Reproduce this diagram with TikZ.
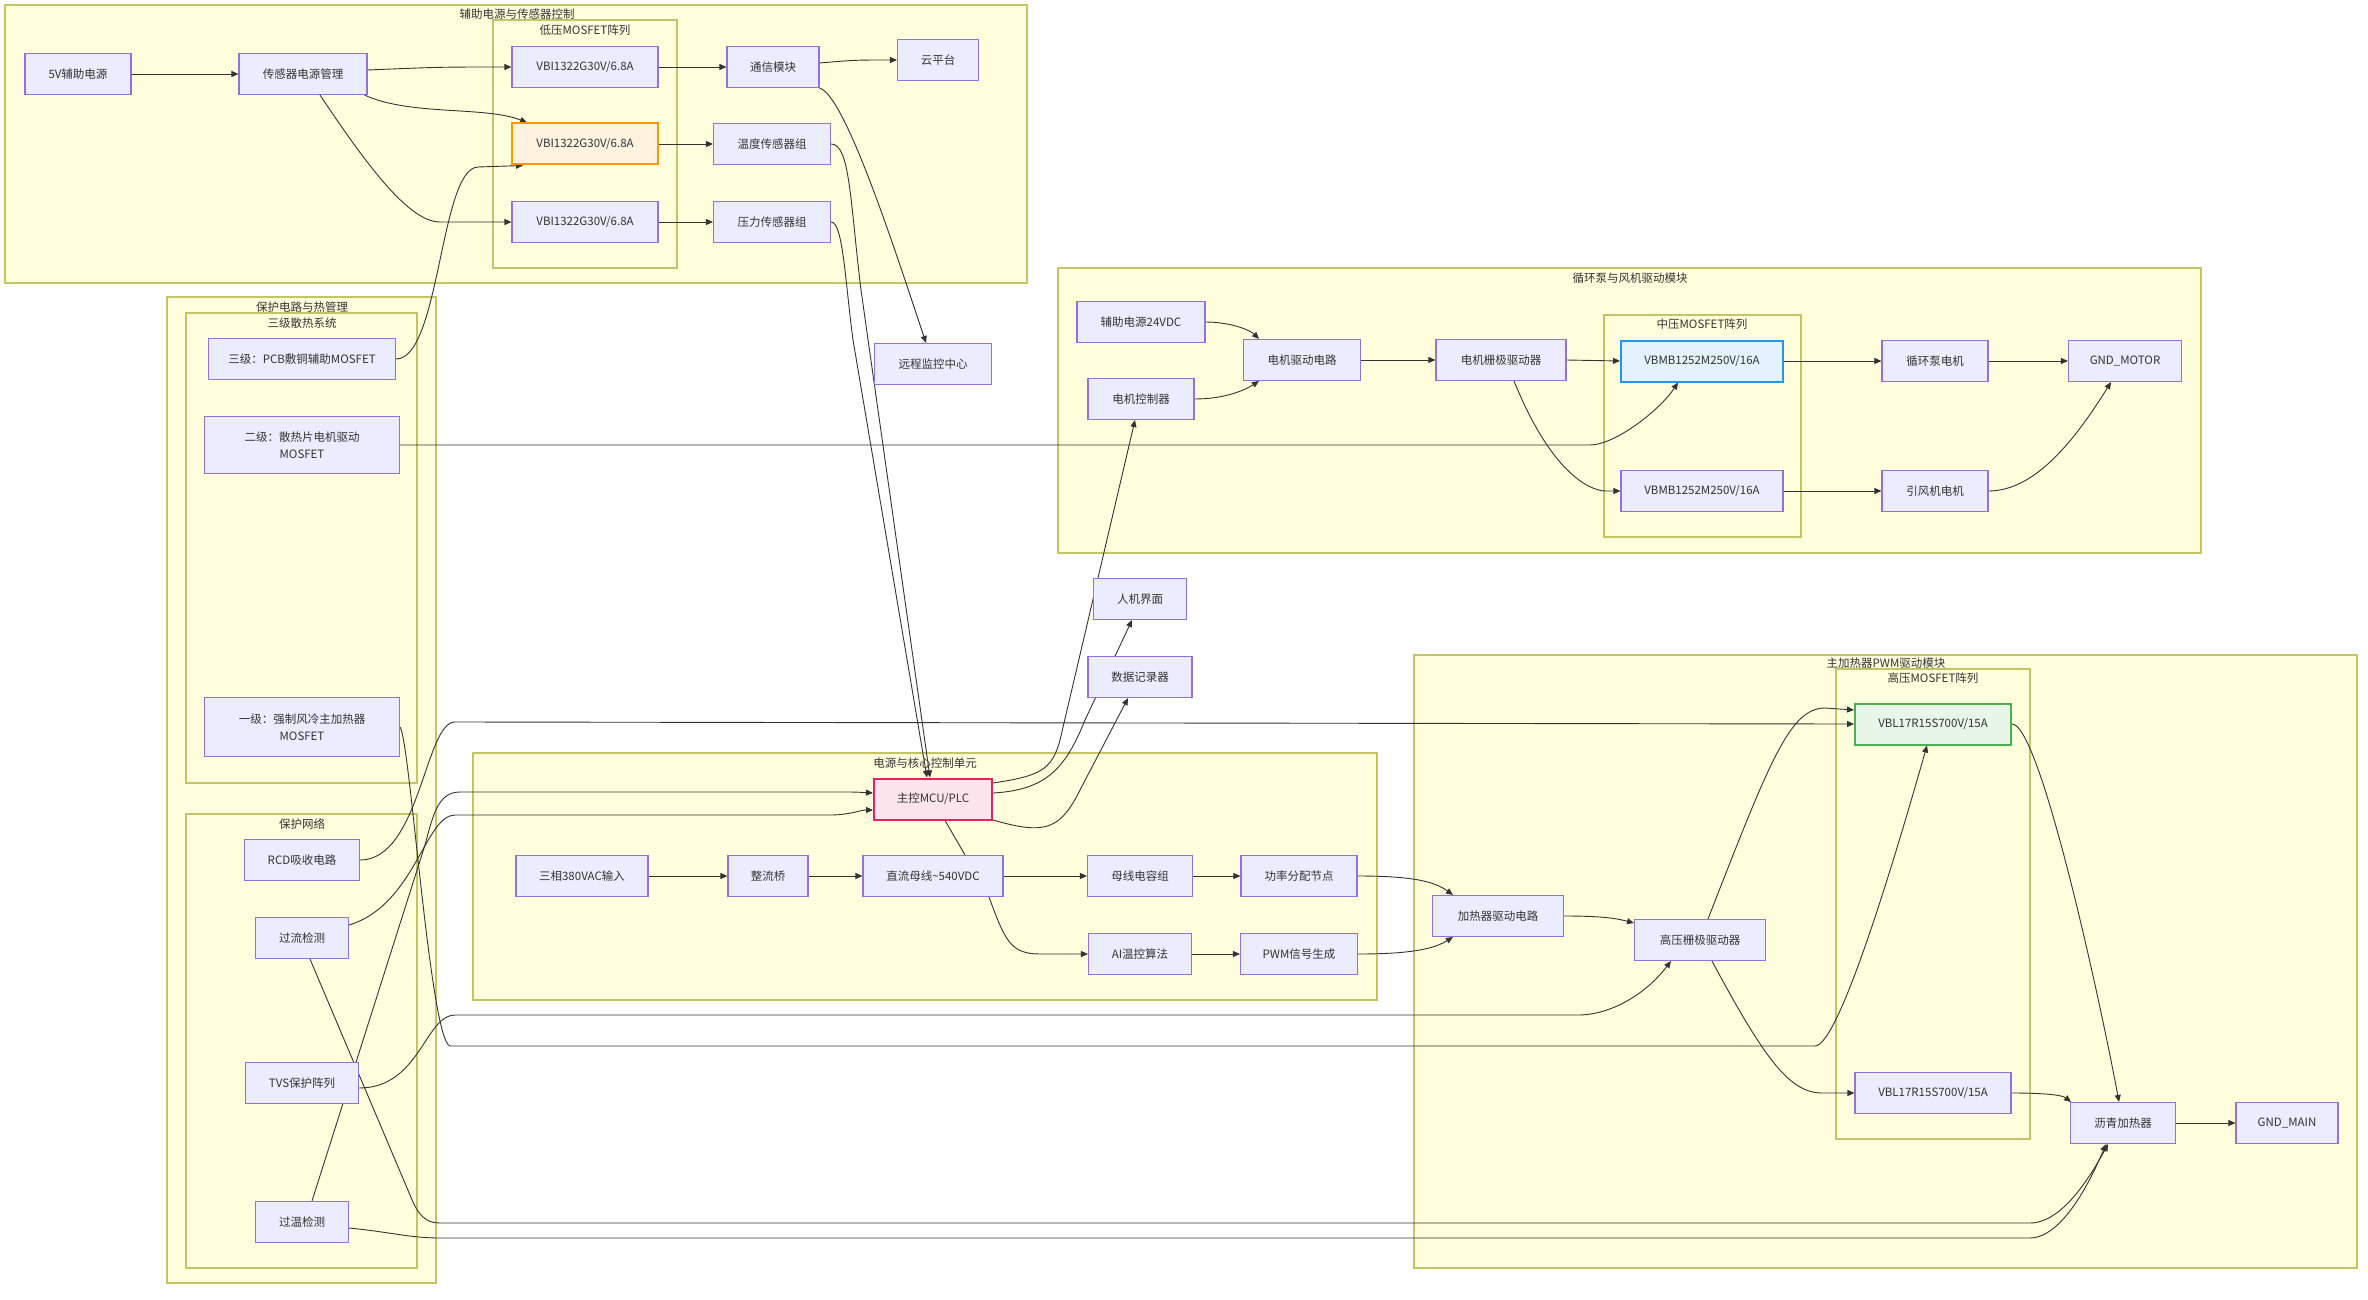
\documentclass[tikz,border=0pt]{standalone}
\usepackage{fontspec}
\setmainfont{Noto Sans CJK SC}
\usetikzlibrary{arrows.meta,calc}
\definecolor{sgfill}{HTML}{FFFFDE}
\definecolor{sgdraw}{HTML}{C4C466}
\definecolor{ndfill}{HTML}{ECECFF}
\definecolor{nddraw}{HTML}{9370DB}
\definecolor{edgec}{HTML}{333333}
\definecolor{txt}{HTML}{333333}
\definecolor{orgfill}{HTML}{FFF3E0}
\definecolor{orgdraw}{HTML}{FF9800}
\definecolor{bluefill}{HTML}{E3F2FD}
\definecolor{bluedraw}{HTML}{2196F3}
\definecolor{grnfill}{HTML}{E8F5E9}
\definecolor{grndraw}{HTML}{4CAF50}
\definecolor{pinkfill}{HTML}{FCE4EC}
\definecolor{pinkdraw}{HTML}{E91E63}
\newcommand{\mynodefont}{\fontsize{11.5}{17.5}\selectfont}
\pgfdeclarelayer{bg}
\pgfdeclarelayer{edgelayer}
\pgfsetlayers{bg,edgelayer,main}
\begin{document}
\begin{tikzpicture}[x=1pt,y=-1pt,
  box/.style={draw=nddraw, fill=ndfill, line width=1.1pt, text=txt, font=\mynodefont, align=center, inner sep=2pt, minimum height=41pt},
  hlorange/.style={box, draw=orgdraw, fill=orgfill, line width=2pt},
  hlblue/.style={box, draw=bluedraw, fill=bluefill, line width=2pt},
  hlgreen/.style={box, draw=grndraw, fill=grnfill, line width=2pt},
  hlpink/.style={box, draw=pinkdraw, fill=pinkfill, line width=2pt},
  sg/.style={draw=sgdraw, fill=sgfill, line width=1.3pt},
  sgtitle/.style={text=txt, font=\mynodefont, inner sep=0pt},
  edge/.style={draw=edgec, line width=0.9pt, -{Triangle[length=7pt,width=6pt]}},
  plainedge/.style={draw=edgec, line width=0.9pt}
]
\useasboundingbox (0,0) rectangle (2368,1300);
\begin{pgfonlayer}{bg}
\fill[white] (0,0) rectangle (2368,1300);
% subgraph boxes
\draw[sg] (5,5) rectangle (1027,283);
\draw[sg] (493,20) rectangle (677,268);
\draw[sg] (167,297) rectangle (436,1283);
\draw[sg] (186,313) rectangle (417,783);
\draw[sg] (186,814) rectangle (417,1268);
\draw[sg] (1058,268) rectangle (2201,553);
\draw[sg] (1604,315) rectangle (1801,537);
\draw[sg] (473,753) rectangle (1377,1000);
\draw[sg] (1414,655) rectangle (2357,1268);
\draw[sg] (1836,669) rectangle (2030,1139);
\node[sgtitle] (tB1) at (517,14) {辅助电源与传感器控制};
\node[sgtitle] (tB1a) at (585,30) {低压MOSFET阵列};
\node[sgtitle] (tB2) at (302,307) {保护电路与热管理};
\node[sgtitle] (tB2a) at (302,323) {三级散热系统};
\node[sgtitle] (tB2b) at (302,824) {保护网络};
\node[sgtitle] (tB3) at (1630,278) {循环泵与风机驱动模块};
\node[sgtitle] (tB3a) at (1702,324) {中压MOSFET阵列};
\node[sgtitle] (tB4) at (925,763) {电源与核心控制单元};
\node[sgtitle] (tB5) at (1886,663) {主加热器PWM驱动模块};
\node[sgtitle] (tB5a) at (1933,678) {高压MOSFET阵列};
\end{pgfonlayer}

% nodes: auxiliary power & sensors
\node[box, minimum width=106pt] (n5v) at (78,74) {5V辅助电源};
\node[box, minimum width=128pt] (sensPM) at (303,74) {传感器电源管理};
\node[box, minimum width=146pt] (vbi1) at (585,67) {VBI1322G30V/6.8A};
\node[hlorange, minimum width=146pt] (vbi2) at (585,144) {VBI1322G30V/6.8A};
\node[box, minimum width=146pt] (vbi3) at (585,222) {VBI1322G30V/6.8A};
\node[box, minimum width=92pt] (comm) at (773,67) {通信模块};
\node[box, minimum width=117pt] (temp) at (772,144) {温度传感器组};
\node[box, minimum width=117pt] (press) at (772,222) {压力传感器组};
\node[box, minimum width=81pt] (cloud) at (938,60) {云平台};
% protection & thermal
\node[box, minimum width=187pt] (h3) at (302,359) {三级：PCB敷铜辅助MOSFET};
\node[box, minimum width=195pt, minimum height=57pt] (h2) at (302,445) {二级：散热片电机驱动\\MOSFET};
\node[box, minimum width=195pt, minimum height=59pt] (h1) at (302,727) {一级：强制风冷主加热器\\MOSFET};
\node[box, minimum width=115pt] (rcd) at (302,860) {RCD吸收电路};
\node[box, minimum width=93pt] (oc) at (302,938) {过流检测};
\node[box, minimum width=113pt] (tvs) at (302,1083) {TVS保护阵列};
\node[box, minimum width=93pt] (ot) at (302,1222) {过温检测};
% free nodes
\node[box, minimum width=117pt] (remote) at (933,364) {远程监控中心};
\node[box, minimum width=93pt] (hmi) at (1140,599) {人机界面};
\node[box, minimum width=104pt] (logger) at (1140,677) {数据记录器};
% pump & fan
\node[box, minimum width=128pt] (aux24) at (1141,322) {辅助电源24VDC};
\node[box, minimum width=106pt] (mctrl) at (1141,399) {电机控制器};
\node[box, minimum width=117pt] (mdrv) at (1302,360) {电机驱动电路};
\node[box, minimum width=130pt] (mgate) at (1501,360) {电机栅极驱动器};
\node[hlblue, minimum width=162pt] (vbmb1) at (1702,361) {VBMB1252M250V/16A};
\node[box, minimum width=162pt] (vbmb2) at (1702,491) {VBMB1252M250V/16A};
\node[box, minimum width=106pt] (pump) at (1935,361) {循环泵电机};
\node[box, minimum width=106pt] (fan) at (1935,491) {引风机电机};
\node[box, minimum width=113pt] (gndm) at (2125,361) {GND\_MOTOR};
% core
\node[hlpink, minimum width=118pt] (mcu) at (933,799) {主控MCU/PLC};
\node[box, minimum width=132pt] (ac) at (582,876) {三相380VAC输入};
\node[box, minimum width=80pt] (rect) at (768,876) {整流桥};
\node[box, minimum width=140pt] (dc) at (933,876) {直流母线\textasciitilde 540VDC};
\node[box, minimum width=105pt] (cap) at (1140,876) {母线电容组};
\node[box, minimum width=116pt] (pdn) at (1299,876) {功率分配节点};
\node[box, minimum width=103pt] (ai) at (1140,954) {AI温控算法};
\node[box, minimum width=117pt] (pwm) at (1299,954) {PWM信号生成};
% heater
\node[box, minimum width=131pt] (hdrv) at (1498,916) {加热器驱动电路};
\node[box, minimum width=131pt] (hgate) at (1700,940) {高压栅极驱动器};
\node[hlgreen, minimum width=156pt] (vbl1) at (1933,724) {VBL17R15S700V/15A};
\node[box, minimum width=156pt] (vbl2) at (1933,1093) {VBL17R15S700V/15A};
\node[box, minimum width=105pt] (asph) at (2123,1123) {沥青加热器};
\node[box, minimum width=102pt] (gndmain) at (2287,1123) {GND\_MAIN};

\begin{pgfonlayer}{edgelayer}
% auxiliary power & sensors
\draw[edge] (n5v.east) -- (sensPM.west);
\draw[edge] ([yshift=4pt]sensPM.east) .. controls (440,67) .. (vbi1.west);
\draw[edge] ([xshift=-3pt]sensPM.south east) .. controls (410,116) and (485,106) .. ([xshift=-58pt]vbi2.north);
\draw[edge] ([xshift=17pt]sensPM.south) .. controls (370,170) and (410,222) .. (440,222) -- (vbi3.west);
\draw[edge] (vbi1.east) -- (comm.west);
\draw[edge] (vbi2.east) -- (temp.west);
\draw[edge] (vbi3.east) -- (press.west);
\draw[edge] ([yshift=4pt]comm.east) .. controls (855,60) .. (cloud.west);
\draw[edge] (comm.south east) .. controls (845,95) and (895,250) .. ([xshift=-7pt]remote.north);
\draw[edge] (temp.east) .. controls (850,144) and (850,200) .. (861,290) -- ([xshift=-3pt]mcu.north);
\draw[edge] (press.east) .. controls (843,222) and (845,280) .. (853,340) -- ([xshift=-6pt]mcu.north);
% thermal tiers
\draw[edge] (h3.east) .. controls (440,359) and (440,168) .. (478,167) -- ([xshift=-62pt]vbi2.south);
\draw[edge] (h2.east) -- (1590,445) .. controls (1615,445) and (1660,410) .. ([xshift=-24pt]vbmb1.south);
\draw[edge] (h1.east) .. controls (410,740) and (430,1040) .. (450,1046) -- (1815,1046) .. controls (1840,1046) and (1900,840) .. ([xshift=-6pt]vbl1.south);
% protection network
\draw[edge] (rcd.east) .. controls (420,860) and (425,722) .. (455,722) -- (vbl1.west);
\draw[edge] ([yshift=-5pt]tvs.east) .. controls (420,1088) and (425,1015) .. (455,1015) -- (1578,1015) .. controls (1610,1015) and (1645,995) .. ([xshift=-29pt]hgate.south);
\draw[edge] ([yshift=13pt]oc.east) .. controls (415,905) and (425,815) .. (455,815) -- (830,815) .. controls (850,815) and (860,810) .. ([yshift=-11pt]mcu.west);
\draw[edge] ([xshift=10pt]ot.north) -- (425,845) .. controls (433,815) and (438,792) .. (460,792) -- (840,792) .. controls (855,792) .. ([yshift=6pt]mcu.west);
\draw[edge] ([xshift=8pt]oc.south) -- (410,1195) .. controls (418,1215) and (425,1223) .. (440,1223) -- (2030,1223) .. controls (2050,1223) and (2075,1205) .. ([xshift=-15pt]asph.south);
\draw[edge] ([yshift=-6pt]ot.east) .. controls (390,1232) and (410,1238) .. (440,1238) -- (2030,1238) .. controls (2052,1238) and (2078,1210) .. ([xshift=-17pt]asph.south);
% core
\draw[edge] ([yshift=16pt]mcu.east) .. controls (1040,776) and (1052,770) .. (1060,740) -- ([xshift=-6pt]mctrl.south);
\draw[edge] ([yshift=6pt]mcu.east) .. controls (1045,790) and (1065,770) .. (1085,720) -- ([xshift=-8pt]hmi.south);
\draw[edge] ([yshift=-21pt]mcu.east) .. controls (1045,835) and (1060,830) .. (1080,790) -- ([xshift=-12pt]logger.south);
\draw[plainedge] ([xshift=12pt]mcu.south) -- ([xshift=32pt]dc.north);
\draw[edge] (ac.east) -- (rect.west);
\draw[edge] (rect.east) -- (dc.west);
\draw[edge] (dc.east) -- (cap.west);
\draw[edge] (cap.east) -- (pdn.west);
\draw[edge] ([xshift=56pt]dc.south) .. controls (1005,940) and (1010,954) .. (1040,954) -- (ai.west);
\draw[edge] (ai.east) -- (pwm.west);
\draw[edge] (pdn.east) .. controls (1415,876) and (1435,882) .. ([xshift=-45pt]hdrv.north);
\draw[edge] (pwm.east) .. controls (1415,954) and (1435,948) .. ([xshift=-45pt]hdrv.south);
% pump & fan
\draw[edge] (aux24.east) .. controls (1230,322) and (1250,330) .. ([xshift=-43pt]mdrv.north);
\draw[edge] (mctrl.east) .. controls (1225,399) and (1245,390) .. ([xshift=-43pt]mdrv.south);
\draw[edge] (mdrv.east) -- (mgate.west);
\draw[edge] (mgate.east) -- (vbmb1.west);
\draw[edge] ([xshift=13pt]mgate.south) .. controls (1550,470) and (1588,491) .. (1606,491) -- (vbmb2.west);
\draw[edge] (vbmb1.east) -- (pump.west);
\draw[edge] (pump.east) -- (gndm.west);
\draw[edge] (vbmb2.east) -- (fan.west);
\draw[edge] (fan.east) .. controls (2035,491) and (2075,440) .. ([xshift=-14pt]gndm.south);
% heater
\draw[edge] (hdrv.east) .. controls (1600,916) and (1615,918) .. ([yshift=17pt]hgate.west);
\draw[edge] ([xshift=8pt]hgate.north) .. controls (1770,760) and (1790,708) .. (1825,708) -- ([yshift=14pt]vbl1.west);
\draw[edge] ([xshift=12pt]hgate.south) .. controls (1765,1060) and (1790,1093) .. (1822,1093) -- (vbl2.west);
\draw[edge] (vbl1.east) .. controls (2040,724) and (2100,1000) .. ([xshift=-4pt]asph.north);
\draw[edge] (vbl2.east) .. controls (2045,1093) and (2062,1095) .. ([xshift=-52pt]asph.north);
\draw[edge] (asph.east) -- (gndmain.west);
\end{pgfonlayer}
\end{tikzpicture}
\end{document}
